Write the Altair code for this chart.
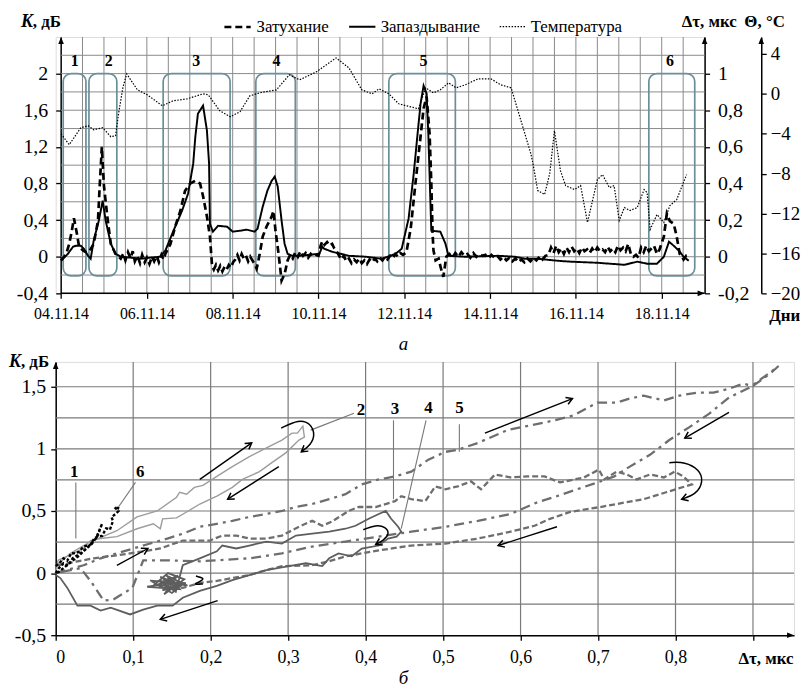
import math
import altair as alt
import pandas as pd

FONT = "Liberation Serif, DejaVu Serif, serif"
GRID = "#8a8a8a"
BOX = "#6b8f99"

# ---------------- panel (a): time series ----------------
# x = days since 04.11.14 00:00
temp_t = [0.00,0.19,0.46,0.63,0.76,0.97,1.16,1.27,1.34,1.44,1.53,1.78,2.01,2.36,2.61,2.94,3.31,3.43,3.70,3.94,4.17,
          4.40,4.63,5.02,5.32,5.56,5.95,6.41,6.71,7.01,7.25,7.41,7.64,7.87,8.33,8.50,8.68,8.84,9.03,9.21,9.42,
          9.72,10.02,10.25,10.49,10.72,10.95,11.00,11.11,11.27,11.39,11.50,11.64,11.76,11.97,12.11,12.27,12.50,
          12.62,12.78,12.89,13.01,13.13,13.26,13.43,13.59,13.66,13.73,13.89,14.05,14.19,14.35,14.58]
temp_v = [-4.0,-5.1,-3.4,-3.2,-3.6,-3.4,-4.3,-4.2,-2.0,0.6,2.0,0.4,-0.1,-1.2,-0.7,-0.5,0.0,-0.1,-1.7,-2.3,-1.8,
          -0.2,0.1,0.4,1.9,1.4,2.2,3.6,2.6,0.4,0.0,0.5,0.0,-1.0,-1.5,0.6,0.1,0.4,1.1,0.6,0.9,
          1.5,1.5,0.9,0.6,-2.7,-6.0,-7.0,-9.7,-10.1,-8.0,-3.7,-7.7,-9.2,-9.6,-9.2,-12.9,-8.6,
          -8.1,-9.4,-9.2,-12.7,-11.4,-11.7,-11.4,-9.6,-9.9,-13.6,-12.1,-12.9,-11.2,-10.6,-8.1]

lag_t = [0.00,0.16,0.28,0.35,0.46,0.53,0.63,0.69,0.76,0.88,0.97,1.04,1.16,1.27,1.39,1.62,1.85,2.08,2.31,2.43,
         2.62,2.82,2.96,3.08,3.13,3.19,3.31,3.40,3.45,3.47,3.54,3.66,3.87,4.00,4.17,4.33,4.51,4.58,4.70,4.81,
         4.91,4.98,5.05,5.14,5.21,5.28,5.39,5.56,6.02,6.09,6.13,6.32,6.71,7.11,7.48,7.80,7.94,8.10,8.22,8.31,
         8.38,8.45,8.52,8.56,8.61,8.63,8.84,8.96,9.03,9.42,10.19,10.58,10.81,11.11,11.57,11.88,12.50,13.13,13.43,
         13.66,13.89,14.05,14.17,14.28,14.40,14.51,14.63]
lag_v = [-0.022,0.016,0.055,0.060,0.060,0.044,0.005,-0.011,0.087,0.197,0.306,0.197,0.071,0.016,0.0,-0.005,-0.011,
         -0.005,0.0,0.033,0.142,0.251,0.344,0.508,0.656,0.781,0.825,0.689,0.508,0.180,0.137,0.169,0.164,0.137,
         0.142,0.148,0.137,0.153,0.273,0.361,0.415,0.437,0.383,0.197,0.071,0.016,0.005,0.005,0.016,0.055,0.044,
         0.027,0.005,0.0,-0.011,0.016,0.044,0.208,0.454,0.672,0.836,0.934,0.891,0.672,0.290,0.142,0.137,0.071,
         0.005,0.0,0.005,0.0,-0.011,-0.011,-0.022,-0.027,-0.033,-0.044,-0.027,-0.038,-0.038,0.0,0.082,0.060,
         0.033,0.0,-0.022]

# attenuation K, read segment by segment (noisy stretches kept jagged as in the picture)
att_a_t = [0.00,0.12,0.19,0.25,0.30,0.37,0.42,0.51,0.58,0.65,0.76,0.86,0.90,0.93,0.95,1.00,1.09,1.16,1.27,1.39]
att_a_v = [-0.04,0.03,0.14,0.28,0.42,0.25,0.11,0.07,0.05,0.05,0.14,0.39,0.77,1.02,1.20,0.77,0.39,0.14,0.03,-0.02]
att_b_t = [1.45,1.50,1.56,1.62,1.67,1.72,1.78,1.84,1.89,1.95,2.00,2.06,2.12,2.17,2.23,2.28,2.34,2.39]
att_b_v = [0.03,-0.04,0.05,-0.02,0.06,-0.05,0.01,-0.07,0.02,-0.06,-0.01,-0.08,0.0,-0.05,0.01,-0.06,0.02,-0.03]
att_c_t = [2.43,2.55,2.66,2.78,2.89,3.01,3.13,3.24,3.31,3.40,3.47,3.52]
att_c_v = [0.03,0.14,0.33,0.50,0.72,0.80,0.83,0.80,0.66,0.44,0.22,-0.10]
att_d_t = [3.56,3.61,3.66,3.71,3.76,3.81,3.86,3.91,3.96,4.01,4.06,4.11,4.16,4.21,4.26,4.31,4.36,4.41,4.46,4.51,4.56]
att_d_v = [-0.14,-0.09,-0.15,-0.10,-0.16,-0.11,-0.14,-0.09,-0.12,-0.06,-0.03,0.02,-0.04,0.03,-0.02,0.01,-0.05,0.0,
           -0.04,-0.08,-0.13]
att_e_t = [4.63,4.70,4.79,4.91,4.95,5.00,5.07,5.14,5.21,5.28]
att_e_v = [0.03,0.22,0.33,0.44,0.50,0.28,0.03,-0.26,-0.19,-0.04]
att_f_t = [5.34,5.40,5.46,5.52,5.58,5.64,5.70,5.76,5.82,5.88,5.94,6.00,6.05,6.09,6.14,6.20,6.26,6.32,6.37,6.41]
att_f_v = [0.02,-0.02,0.05,0.0,0.06,0.01,0.04,-0.01,0.03,0.0,0.02,0.01,0.12,0.17,0.13,0.16,0.12,0.14,0.09,0.07]
att_g_t = [6.47,6.53,6.59,6.65,6.71,6.77,6.83,6.89,6.95,7.01,7.07,7.13,7.19,7.25,7.31,7.37,7.43,7.49,7.55,7.61,
           7.67,7.73,7.79,7.85,7.91,7.97]
att_g_v = [0.02,-0.03,0.01,-0.05,-0.02,-0.07,-0.03,-0.06,-0.02,-0.07,-0.04,-0.08,-0.03,-0.06,-0.02,-0.05,-0.01,
           -0.04,0.0,-0.03,0.01,-0.02,0.03,0.0,0.04,0.02]
att_h_t = [8.05,8.15,8.26,8.36,8.45,8.52,8.59,8.63,8.66,8.68,8.73,8.80,8.85,8.91,8.98]
att_h_v = [0.05,0.31,0.80,1.23,1.62,1.75,1.34,0.80,0.25,0.07,-0.04,-0.02,-0.12,-0.22,0.0]
att_i_t = [9.05,9.12,9.19,9.26,9.33,9.40,9.47,9.54,9.61,9.68,9.75,9.82,9.89,9.96,10.03,10.10,10.17,10.24,10.31,
           10.38,10.45,10.52,10.59,10.66,10.73,10.80,10.87,10.94,11.01,11.08,11.15,11.22,11.29]
att_i_v = [0.03,-0.01,0.04,0.0,0.05,0.01,0.03,-0.01,0.04,0.0,0.03,0.01,0.02,-0.02,0.02,-0.01,0.01,-0.03,0.0,
           -0.04,-0.01,-0.05,-0.02,-0.06,-0.03,-0.06,-0.02,-0.05,-0.01,-0.04,0.0,-0.03,0.01]
att_j_t = [11.36,11.42,11.48,11.54,11.60,11.66,11.72,11.78,11.84,11.90,11.96,12.02,12.08,12.14,12.20,12.26,12.32,
           12.38,12.44,12.50,12.56,12.62,12.68,12.74,12.80,12.86,12.92,12.98,13.04,13.10,13.16,13.22,13.28,13.34,
           13.40,13.46,13.52,13.58,13.64,13.70]
att_j_v = [0.02,0.10,0.04,0.12,0.05,0.09,0.03,0.10,0.05,0.11,0.06,0.09,0.04,0.10,0.06,0.08,0.04,0.09,0.05,0.10,
           0.06,0.08,0.05,0.11,0.06,0.09,0.05,0.12,0.07,0.10,0.06,0.14,0.03,0.0,0.02,-0.01,0.10,0.05,0.12,0.06]
att_k_t = [13.76,13.82,13.89,13.95,14.05,14.12,14.19,14.28,14.35,14.42,14.47,14.51,14.57,14.63]
att_k_v = [0.09,0.12,0.03,0.08,0.22,0.47,0.39,0.36,0.22,0.03,0.0,-0.03,0.01,0.0]

att_t = att_a_t + att_b_t + att_c_t + att_d_t + att_e_t + att_f_t + att_g_t + att_h_t + att_i_t + att_j_t + att_k_t
att_v = att_a_v + att_b_v + att_c_v + att_d_v + att_e_v + att_f_v + att_g_v + att_h_v + att_i_v + att_j_v + att_k_v

series_names = ["Затухание", "Запаздывание", "Температура"]

box_names = ["1", "2", "3", "4", "5", "6"]
box_start = [0.05, 0.65, 2.38, 4.54, 7.64, 13.70]
box_end = [0.58, 1.30, 3.94, 5.46, 9.19, 14.77]
box_label_t = [0.32, 1.11, 3.15, 5.02, 8.45, 14.19]
box_low = [-0.21] * 6
box_high = [2.0] * 6
box_label_k = [2.14] * 6

top_x_ticks = [0, 2, 4, 6, 8, 10, 12, 14]
top_x_grid = [0.5, 1, 1.5, 2, 2.5, 3, 3.5, 4, 4.5, 5, 5.5, 6, 6.5, 7, 7.5, 8, 8.5, 9, 9.5, 10,
              10.5, 11, 11.5, 12, 12.5, 13, 13.5, 14, 14.5]
k_ticks = [-0.4, 0, 0.4, 0.8, 1.2, 1.6, 2]
k_grid = [-0.2, 0, 0.2, 0.4, 0.6, 0.8, 1.0, 1.2, 1.4, 1.6, 1.8, 2.0, 2.2]
lag_ticks = [-0.2, 0, 0.2, 0.4, 0.6, 0.8, 1]
temp_ticks = [-20, -16, -12, -8, -4, 0, 4]

# ---------------- panel (б): K vs delta tau ----------------
loop1_dt = [0.000,0.004,0.010,0.016,0.022,0.030,0.038,0.046,0.054,0.060,0.052,0.040,0.030,0.020,0.012,0.004,0.000]
loop1_k = [0.000,0.040,0.080,0.060,0.120,0.150,0.190,0.230,0.300,0.400,0.280,0.200,0.140,0.090,0.050,0.010,0.000]

loop6_dt = [0.000,0.005,0.010,0.015,0.020,0.023,0.030,0.036,0.040,0.045,0.050,0.054,0.060,0.065,0.067,0.070,
            0.074,0.072,0.078,0.081,0.076,0.082]
loop6_k = [0.056,0.080,0.119,0.100,0.160,0.159,0.170,0.214,0.220,0.230,0.280,0.294,0.300,0.360,0.357,0.350,
           0.421,0.450,0.480,0.500,0.530,0.520]

loop2_dt = [0.000,0.019,0.045,0.079,0.105,0.131,0.156,0.160,0.169,0.179,0.190,0.208,0.228,0.250,0.272,0.292,
            0.305,0.312,0.319,0.321,0.314,0.297,0.279,0.263,0.241,0.228,0.208,0.186,0.169,0.156,0.138,0.135,
            0.126,0.105,0.079,0.058,0.045,0.036,0.023,0.003,0.000]
loop2_k = [0.056,0.159,0.254,0.341,0.452,0.500,0.611,0.651,0.635,0.690,0.706,0.778,0.857,0.937,1.008,1.071,
           1.127,1.127,1.183,1.095,1.071,0.968,0.889,0.817,0.754,0.690,0.619,0.556,0.492,0.444,0.437,0.357,
           0.397,0.357,0.294,0.278,0.262,0.198,0.159,0.103,0.000]

loop3_dt = [0.003,0.028,0.049,0.079,0.113,0.135,0.164,0.199,0.215,0.233,0.250,0.272,0.292,0.314,0.331,0.344,
            0.356,0.378,0.391,0.413,0.438,0.446,0.459,0.477,0.490,0.503,0.519,0.536,0.549,0.567,0.587,0.609,
            0.631,0.651,0.682,0.701,0.708,0.724,0.737,0.750,0.767,0.785,0.799,0.810,0.821,0.788,0.759,0.724,
            0.703,0.664,0.638,0.618,0.587,0.545,0.503,0.459,0.417,0.374,0.353,0.331,0.292,0.272,0.250,0.228,
            0.208,0.186,0.164,0.147,0.135]
loop3_k = [0.063,0.095,0.119,0.143,0.175,0.198,0.262,0.262,0.302,0.302,0.278,0.278,0.302,0.373,0.421,0.381,
           0.413,0.500,0.532,0.532,0.579,0.619,0.595,0.579,0.698,0.675,0.698,0.738,0.675,0.794,0.770,0.778,
           0.778,0.730,0.770,0.833,0.754,0.817,0.794,0.754,0.794,0.770,0.817,0.778,0.714,0.651,0.595,0.556,
           0.532,0.492,0.437,0.381,0.333,0.278,0.238,0.222,0.183,0.135,0.095,0.063,0.056,0.024,-0.016,-0.040,
           -0.063,-0.079,-0.119,-0.103,-0.079]

# loop 4: the scribble around (0.15, -0.1), then the loop itself
loop4_scr_dt = [0.147,0.130,0.158,0.138,0.168,0.122,0.150,0.162,0.135,0.157,0.128,0.145,0.166,0.140,0.152,
                0.118,0.160,0.143,0.170,0.133,0.155]
loop4_scr_k = [-0.040,-0.100,-0.020,-0.140,-0.080,-0.060,-0.160,-0.100,-0.030,-0.120,-0.090,0.000,-0.050,-0.170,
               -0.070,-0.110,-0.130,-0.020,-0.100,-0.060,-0.150]
loop4_main_dt = [0.164,0.186,0.208,0.215,0.233,0.250,0.272,0.292,0.310,0.331,0.353,0.374,0.387,0.404,0.417,0.426,
                 0.433,0.442,0.446,0.440,0.429,0.417,0.395,0.382,0.365,0.353,0.344,0.323,0.301,0.272,0.250,0.228,
                 0.208,0.186,0.164,0.151,0.131,0.113,0.096,0.071,0.058,0.045,0.028,0.015,0.006,0.000]
loop4_main_k = [0.063,0.119,0.175,0.222,0.198,0.222,0.254,0.238,0.302,0.317,0.333,0.357,0.381,0.437,0.476,0.500,
                0.437,0.373,0.333,0.294,0.278,0.222,0.198,0.135,0.159,0.119,0.056,0.079,0.056,0.024,-0.016,
                -0.056,-0.103,-0.143,-0.198,-0.262,-0.262,-0.294,-0.333,-0.278,-0.302,-0.262,-0.262,-0.119,
                -0.040,-0.016]

loop5_dt = [0.000,0.036,0.058,0.079,0.100,0.122,0.144,0.164,0.186,0.208,0.228,0.250,0.272,0.292,0.310,0.331,
            0.353,0.374,0.395,0.417,0.438,0.459,0.481,0.503,0.519,0.545,0.583,0.613,0.644,0.669,0.699,0.724,
            0.741,0.759,0.785,0.805,0.827,0.849,0.869,0.887,0.900,0.913,0.926,0.933,0.921,0.895,0.869,0.844,
            0.818,0.792,0.767,0.741,0.721,0.703,0.673,0.647,0.622,0.587,0.545,0.503,0.459,0.417,0.374,0.331,
            0.292,0.250,0.186,0.144,0.113,0.099,0.074,0.062,0.045,0.032,0.000]
loop5_k = [0.000,0.063,0.119,0.159,0.198,0.238,0.278,0.317,0.373,0.397,0.421,0.452,0.476,0.500,0.532,0.556,
           0.595,0.635,0.714,0.754,0.778,0.817,0.913,0.976,0.992,1.048,1.151,1.190,1.230,1.270,1.373,1.373,
           1.405,1.429,1.389,1.429,1.452,1.452,1.484,1.524,1.508,1.563,1.627,1.667,1.611,1.492,1.413,1.286,
           1.175,1.071,0.952,0.857,0.778,0.738,0.675,0.619,0.571,0.476,0.421,0.373,0.333,0.294,0.254,0.214,
           0.159,0.119,0.095,0.103,0.103,-0.119,-0.214,-0.222,-0.063,0.040,0.000]

lab_names = ["1", "6", "2", "3", "4", "5"]
lab_dt = [0.024, 0.109, 0.394, 0.438, 0.481, 0.521]
lab_k = [0.817, 0.817, 1.310, 1.317, 1.325, 1.325]
lead_dt1 = [0.026, 0.103, 0.329, 0.436, 0.478, 0.521]
lead_k1 = [0.73, 0.73, 1.151, 1.23, 1.23, 1.198]
lead_dt2 = [0.026, 0.081, 0.385, 0.436, 0.446, 0.521]
lead_k2 = [0.278, 0.532, 1.286, 0.595, 0.357, 0.976]

arr_dt1 = [0.186, 0.288, 0.554, 0.869, 0.647, 0.079, 0.209]
arr_k1 = [0.754, 0.857, 1.127, 1.294, 0.373, 0.063, -0.222]
arr_dt2 = [0.253, 0.222, 0.667, 0.812, 0.571, 0.119, 0.135]
arr_k2 = [1.048, 0.595, 1.405, 1.087, 0.222, 0.198, -0.373]

curve_id = ["c2"] * 6 + ["c3"] * 6 + ["c4"] * 6 + ["c0"] * 5
curve_dt = [0.291, 0.314, 0.329, 0.335, 0.329, 0.317,
            0.792, 0.812, 0.831, 0.836, 0.827, 0.808,
            0.397, 0.413, 0.426, 0.431, 0.423, 0.413,
            0.181, 0.192, 0.188, 0.176, 0.190]
curve_k = [1.167, 1.238, 1.206, 1.111, 1.032, 0.976,
           0.889, 0.897, 0.833, 0.738, 0.635, 0.595,
           0.349, 0.389, 0.373, 0.317, 0.262, 0.230,
           -0.024, -0.040, -0.063, -0.095, -0.087]
curve_head = ["c2", "c3", "c4"]

bx_ticks = [0, 0.1, 0.2, 0.3, 0.4, 0.5, 0.6, 0.7, 0.8, 0.9]
bx_grid = [0.1, 0.2, 0.3, 0.4, 0.5, 0.6, 0.7, 0.8, 0.9]
by_ticks = [-0.5, 0, 0.5, 1, 1.5]
by_grid = [-0.25, 0, 0.25, 0.5, 0.75, 1.0, 1.25, 1.5]

# ---------------- layout constants ----------------
W1, H1 = 653, 258
XD1 = [-0.125, 15]
W2, H2 = 743, 275
XD2 = [0, 0.953]
YD2 = [-0.5, 1.7]

UP_ARROW = "M 0 0 L -0.4 1 L 0.4 1 Z"
CHEVRON = "M -1 -0.6 L 0 0 L -1 0.6"
COMMA = "replace(toString(datum.value), '.', ',')"

axis_style = dict(labelFont=FONT, labelColor="black", domainColor="black", domainWidth=1.5,
                  tickColor="black", tickWidth=1.3, tickSize=5, grid=False, title=None)


def label_layer(texts, xs, ys, size, weight="bold", style="normal", align="left"):
    df = pd.DataFrame({"s": texts, "px": xs, "py": ys})
    return alt.Chart(df).mark_text(font=FONT, fontSize=size, fontWeight=weight, fontStyle=style,
                                   align=align, baseline="middle", color="black").encode(
        text="s:N", x=alt.X("px:Q", scale=None), y=alt.Y("py:Q", scale=None))


# ================= top chart =================
xs1 = alt.Scale(domain=XD1, nice=False, zero=False)
ax1x = alt.Axis(values=top_x_ticks,
                labelExpr="timeFormat(datetime(2014, 10, 4 + datum.value), '%d.%m.%y')",
                labelFontSize=16, labelPadding=7, domain=False, **axis_style)
ks = alt.Scale(domain=[-0.4, 2.4], nice=False, zero=False)
ax1k = alt.Axis(values=k_ticks, labelExpr=COMMA, labelFontSize=20, offset=-5, labelPadding=8, **axis_style)


def X1(f="t"):
    return alt.X(f"{f}:Q", scale=xs1, axis=ax1x)


def K1(f="k"):
    return alt.Y(f"{f}:Q", scale=ks, axis=ax1k)


dash_scale = alt.Scale(domain=series_names, range=[[7, 4], [1, 0], [1.5, 1.5]])
width_scale = alt.Scale(domain=series_names, range=[2.7, 1.2, 1.5])
LEG = alt.Legend(orient="none", legendX=168, legendY=-25, direction="horizontal", title=None,
                 symbolType="stroke", symbolSize=700, symbolStrokeColor="black",
                 labelFont=FONT, labelFontSize=17, labelColor="black", columnPadding=16, labelOffset=4)

hgrid1 = alt.Chart(pd.DataFrame({"k": k_grid, "t": [0] * len(k_grid), "t2": [15] * len(k_grid)})).mark_rule(
    color=GRID, strokeWidth=1).encode(y=K1(), x=X1(), x2="t2:Q")
vgrid1 = alt.Chart(pd.DataFrame({"t": top_x_grid})).mark_rule(color=GRID, strokeWidth=1).encode(x=X1())
# x-axis baseline, starting at the K axis (04.11.14) and running to the right-hand axis
xbase1 = alt.Chart(pd.DataFrame({"k": [-0.4], "t": [0], "t2": [15]})).mark_rule(
    color="black", strokeWidth=1.5).encode(y=K1(), x=X1(), x2="t2:Q")

boxes = alt.Chart(pd.DataFrame({"t": box_start, "t2": box_end, "k": box_low, "k2": box_high})).mark_rect(
    fillOpacity=0, stroke=BOX, strokeWidth=1.7, cornerRadius=8).encode(x=X1(), x2="t2:Q", y=K1(), y2="k2:Q")
box_txt = alt.Chart(pd.DataFrame({"t": box_label_t, "k": box_label_k, "s": box_names})).mark_text(
    font=FONT, fontSize=16, fontWeight="bold", color="black").encode(x=X1(), y=K1(), text="s:N")

att_df = pd.DataFrame({"t": att_t, "k": att_v, "series": series_names[0]})
att_line = alt.Chart(att_df).mark_line(color="black").encode(
    x=X1(), y=K1(),
    strokeDash=alt.StrokeDash("series:N", scale=dash_scale, legend=LEG),
    strokeWidth=alt.StrokeWidth("series:N", scale=width_scale, legend=LEG))

ax_heads1 = alt.Chart(pd.DataFrame({"t": [0, 15, 15], "k": [2.4, 2.4, -0.4], "a": [0, 0, 90]})).mark_point(
    shape=UP_ARROW, filled=True, size=196, color="black", opacity=1).encode(
    x=X1(), y=K1(), angle=alt.Angle("a:Q", scale=None))
ax_head_theta = alt.Chart(pd.DataFrame({"k": [2.4]})).mark_point(
    shape=UP_ARROW, filled=True, size=196, color="black", opacity=1).encode(
    x=alt.value(W1 + 57), y=K1())

top_k_sym = label_layer(["K"], [-35], [-15], 18, style="italic")
top_titles = label_layer([", дБ", "Δτ, мкс", "Θ, °C", "Дни"], [-23, 630, 693, 718], [-15, -15, -15, 281], 17)

kgroup = alt.layer(hgrid1, vgrid1, xbase1, boxes, att_line, box_txt, ax_heads1, ax_head_theta,
                   top_k_sym, top_titles)

lag_df = pd.DataFrame({"t": lag_t, "d": lag_v, "series": series_names[1]})
lag_line = alt.Chart(lag_df).mark_line(color="black").encode(
    x=X1(),
    y=alt.Y("d:Q", scale=alt.Scale(domain=[-0.2, 1.2], nice=False, zero=False),
            axis=alt.Axis(orient="right", values=lag_ticks, labelExpr=COMMA, labelFontSize=20, labelPadding=8,
                          **axis_style)),
    strokeDash=alt.StrokeDash("series:N", scale=dash_scale, legend=LEG),
    strokeWidth=alt.StrokeWidth("series:N", scale=width_scale, legend=LEG))

temp_df = pd.DataFrame({"t": temp_t, "v": temp_v, "series": series_names[2]})
temp_line = alt.Chart(temp_df).mark_line(color="black").encode(
    x=X1(),
    y=alt.Y("v:Q", scale=alt.Scale(domain=[-20, 5.7], nice=False, zero=False),
            axis=alt.Axis(orient="right", offset=57, values=temp_ticks, labelFontSize=19, labelPadding=4,
                          **axis_style)),
    strokeDash=alt.StrokeDash("series:N", scale=dash_scale, legend=LEG),
    strokeWidth=alt.StrokeWidth("series:N", scale=width_scale, legend=LEG))

top = alt.layer(kgroup, lag_line, temp_line).resolve_scale(y="independent").properties(width=W1, height=H1)

# ================= bottom chart =================
xs2 = alt.Scale(domain=XD2, nice=False, zero=False)
ys2 = alt.Scale(domain=YD2, nice=False, zero=False)
ax2x = alt.Axis(values=bx_ticks, labelExpr="datum.value > 0.85 ? '' : " + COMMA, labelFontSize=18,
                labelPadding=8, **axis_style)
ax2y = alt.Axis(values=by_ticks, labelExpr=COMMA, labelFontSize=20, labelPadding=5, **axis_style)


def X2(f="x"):
    return alt.X(f"{f}:Q", scale=xs2, axis=ax2x)


def Y2(f="y"):
    return alt.Y(f"{f}:Q", scale=ys2, axis=ax2y)


PXX = W2 / (XD2[1] - XD2[0])
PXY = H2 / (YD2[1] - YD2[0])


def screen_angle(x1, y1, x2, y2):
    return math.degrees(math.atan2(-(y2 - y1) * PXY, (x2 - x1) * PXX)) % 360


hgrid2 = alt.Chart(pd.DataFrame({"y": by_grid})).mark_rule(color="#7a7a7a", strokeWidth=1.2).encode(y=Y2())
vgrid2 = alt.Chart(pd.DataFrame({"x": bx_grid})).mark_rule(color="#7a7a7a", strokeWidth=1.2).encode(x=X2())


def loop_layer(dts, ks_, color, width, dash=None):
    kw = dict(color=color, strokeWidth=width)
    if dash is not None:
        kw["strokeDash"] = dash
    df = pd.DataFrame({"x": dts, "y": ks_, "i": list(range(len(dts)))})
    return alt.Chart(df).mark_line(**kw).encode(x=X2(), y=Y2(), order="i:Q")


l2 = loop_layer(loop2_dt, loop2_k, "#9c9c9c", 1.4)
l4 = loop_layer(loop4_scr_dt + loop4_main_dt, loop4_scr_k + loop4_main_k, "#5e5e5e", 1.8)
l3 = loop_layer(loop3_dt, loop3_k, "#6e6e6e", 2.3, [6, 3])
l5 = loop_layer(loop5_dt, loop5_k, "#6e6e6e", 2.3, [10, 5, 3, 5])
l1 = loop_layer(loop1_dt, loop1_k, "black", 2.4, [3, 2])
l6 = loop_layer(loop6_dt, loop6_k, "black", 2.4, [3, 2])

leads = alt.Chart(pd.DataFrame({"x": lead_dt1, "y": lead_k1, "x2": lead_dt2, "y2": lead_k2})).mark_rule(
    color="#777777", strokeWidth=1.1).encode(x=X2(), y=Y2(), x2="x2:Q", y2="y2:Q")
labs = alt.Chart(pd.DataFrame({"x": lab_dt, "y": lab_k, "s": lab_names})).mark_text(
    font=FONT, fontSize=17, fontWeight="bold", color="black").encode(x=X2(), y=Y2(), text="s:N")

arr_lines = alt.Chart(pd.DataFrame({"x": arr_dt1, "y": arr_k1, "x2": arr_dt2, "y2": arr_k2})).mark_rule(
    color="black", strokeWidth=1.4).encode(x=X2(), y=Y2(), x2="x2:Q", y2="y2:Q")

curve_df = pd.DataFrame({"id": curve_id, "x": curve_dt, "y": curve_k, "i": list(range(len(curve_dt)))})
curves = alt.Chart(curve_df).mark_line(color="black", strokeWidth=1.5, interpolate="basis").encode(
    x=X2(), y=Y2(), detail="id:N", order="i:Q")

head_x, head_y, head_a = [], [], []
for a in range(len(arr_dt1)):
    head_x.append(arr_dt2[a])
    head_y.append(arr_k2[a])
    head_a.append(screen_angle(arr_dt1[a], arr_k1[a], arr_dt2[a], arr_k2[a]))
for cid in curve_head:
    pts = [(x, y) for c, x, y in zip(curve_id, curve_dt, curve_k) if c == cid]
    (xa, ya), (xb, yb) = pts[-2], pts[-1]
    head_x.append(xb)
    head_y.append(yb)
    head_a.append(screen_angle(xa, ya, xb, yb))
heads = alt.Chart(pd.DataFrame({"x": head_x, "y": head_y, "a": head_a})).mark_point(
    shape=CHEVRON, filled=False, size=150, color="black", strokeWidth=1.5, opacity=1).encode(
    x=X2(), y=Y2(), angle=alt.Angle("a:Q", scale=None))

ax_heads2 = alt.Chart(pd.DataFrame({"x": [0, XD2[1]], "y": [YD2[1], YD2[0]], "a": [0, 90]})).mark_point(
    shape=UP_ARROW, filled=True, size=196, color="black", opacity=1).encode(
    x=X2(), y=Y2(), angle=alt.Angle("a:Q", scale=None))

bot_k_sym = label_layer(["K"], [-47], [0], 18, style="italic")
bot_titles = label_layer([", дБ", "Δτ, мкс"], [-35, 687], [0, 299], 17)
panel_txt = label_layer(["а", "б"], [350, 350], [-18, 318], 19, weight="normal", style="italic", align="center")

bottom = alt.layer(hgrid2, vgrid2, l2, l5, l3, l4, l1, l6, leads, labs, arr_lines, curves, heads,
                   ax_heads2, bot_k_sym, bot_titles, panel_txt).properties(width=W2, height=H2)

chart = alt.vconcat(top, bottom, spacing=9).properties(
    padding={"left": 0, "top": 2, "right": 0, "bottom": 0}
).configure_view(stroke=None).configure(font=FONT, background="white")

chart.save("out.html", embed_options={"renderer": "svg", "actions": False})
